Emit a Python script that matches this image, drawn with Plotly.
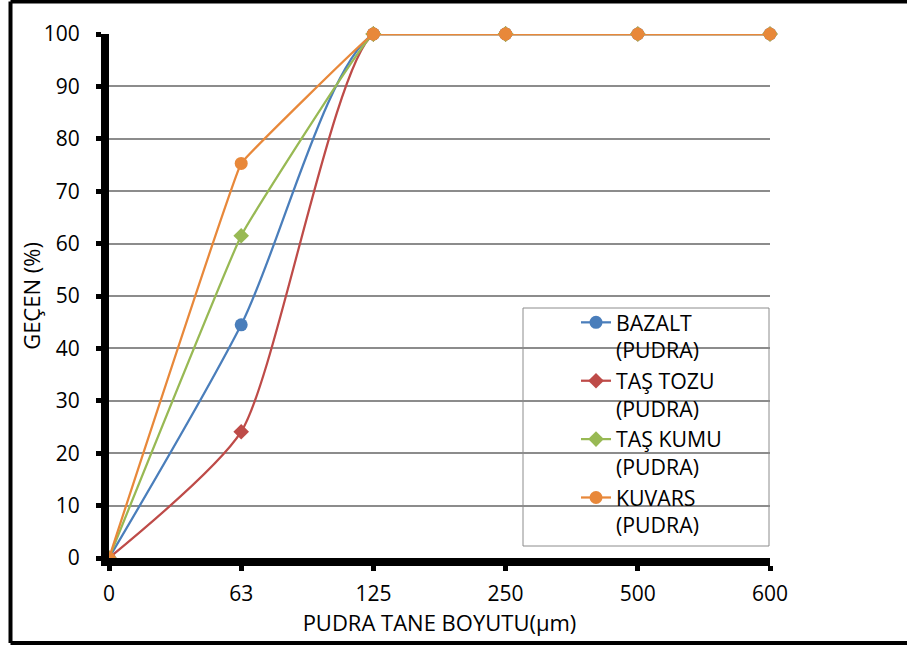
import plotly.graph_objects as go

categories = ["0", "63", "125", "250", "500", "600"]
bazalt = [0, 44.5, 100, 100, 100, 100]
tas_tozu = [0, 24.1, 100, 100, 100, 100]
tas_kumu = [0, 61.5, 100, 100, 100, 100]
kuvars = [0, 75.3, 100, 100, 100, 100]
series_names = ["BAZALT<br>(PUDRA)", "TAŞ TOZU<br>(PUDRA)", "TAŞ KUMU<br>(PUDRA)", "KUVARS<br>(PUDRA)"]
y_ticks = [0, 10, 20, 30, 40, 50, 60, 70, 80, 90, 100]

colors = ["#4A7EBB", "#BE4B48", "#98B954", "#E8883A"]
symbols = ["circle", "diamond", "diamond", "circle"]
sizes = [13, 12, 12, 13]
smooth = [0.8, 0.6, 0.2, 0.12]
FONT = "Open Sans"

fig = go.Figure()
for i, ys in enumerate([bazalt, tas_tozu, tas_kumu, kuvars]):
    # smoothed rising part (overshoot beyond the top is clipped and hidden under the plateau)
    fig.add_trace(go.Scatter(
        x=categories[:4], y=ys[:4], name=series_names[i], mode="lines+markers",
        line=dict(color=colors[i], width=2.25, shape="spline", smoothing=smooth[i]),
        marker=dict(color=colors[i], symbol=symbols[i], size=sizes[i]),
        legendgroup=str(i), cliponaxis=False, showlegend=True,
    ))
    # flat plateau part
    fig.add_trace(go.Scatter(
        x=categories[2:], y=ys[2:], name=series_names[i], mode="lines+markers",
        line=dict(color=colors[i], width=2.25),
        marker=dict(color=colors[i], symbol=symbols[i], size=sizes[i]),
        legendgroup=str(i), cliponaxis=False, showlegend=False,
    ))

W, H = 907, 646
L, R, T, B = 109, 770, 34, 558
pw, ph = R - L, B - T

def px(x):
    return (x - L) / pw

def py(y):
    return (B - y) / ph

fig.update_layout(
    width=W, height=H,
    margin=dict(l=L, r=W - R, t=T, b=H - B, pad=0),
    paper_bgcolor="white", plot_bgcolor="white",
    font=dict(family=FONT, size=21, color="black"),
    showlegend=True,
    legend=dict(
        x=px(576), y=py(302), xanchor="left", yanchor="top",
        bgcolor="rgba(0,0,0,0)", borderwidth=0,
        font=dict(family=FONT, size=21.3, color="black"),
        valign="top", tracegroupgap=0, traceorder="normal",
    ),
    xaxis=dict(
        type="category", categoryorder="array", categoryarray=categories,
        range=[0, 5], showgrid=False, zeroline=False, automargin=False,
        showline=True, linecolor="black", linewidth=8,
        ticks="outside", ticklen=5, tickwidth=5, tickcolor="black",
        tickfont=dict(family=FONT, size=21), ticklabelstandoff=5,
        title=dict(text="PUDRA TANE BOYUTU(µm)", font=dict(family=FONT, size=22), standoff=9),
    ),
    yaxis=dict(
        range=[0, 100], tickvals=y_ticks, showgrid=True, gridcolor="#8C8C8C", gridwidth=2,
        zeroline=False, showline=True, linecolor="black", linewidth=8, automargin=False,
        ticks="outside", ticklen=5, tickwidth=5, tickcolor="black",
        tickfont=dict(family=FONT, size=21), ticklabelstandoff=12,
        title=dict(text="GEÇEN (%)", font=dict(family=FONT, size=22), standoff=0),
    ),
    shapes=[
        # legend box
        dict(type="rect", xref="paper", yref="paper", x0=px(523), x1=px(769), y0=py(546), y1=py(308),
             line=dict(color="#8C8C8C", width=1), fillcolor="white", layer="below"),
        # outer chart border
        dict(type="line", xref="paper", yref="paper", x0=px(10.5), x1=px(10.5), y0=py(1.5), y1=py(643), line=dict(color="black", width=4)),
        dict(type="line", xref="paper", yref="paper", x0=px(10.5), x1=px(920), y0=py(1.5), y1=py(1.5), line=dict(color="black", width=4)),
        dict(type="line", xref="paper", yref="paper", x0=px(10.5), x1=px(920), y0=py(643), y1=py(643), line=dict(color="black", width=4)),
    ],
)

fig.write_html("out.html")
